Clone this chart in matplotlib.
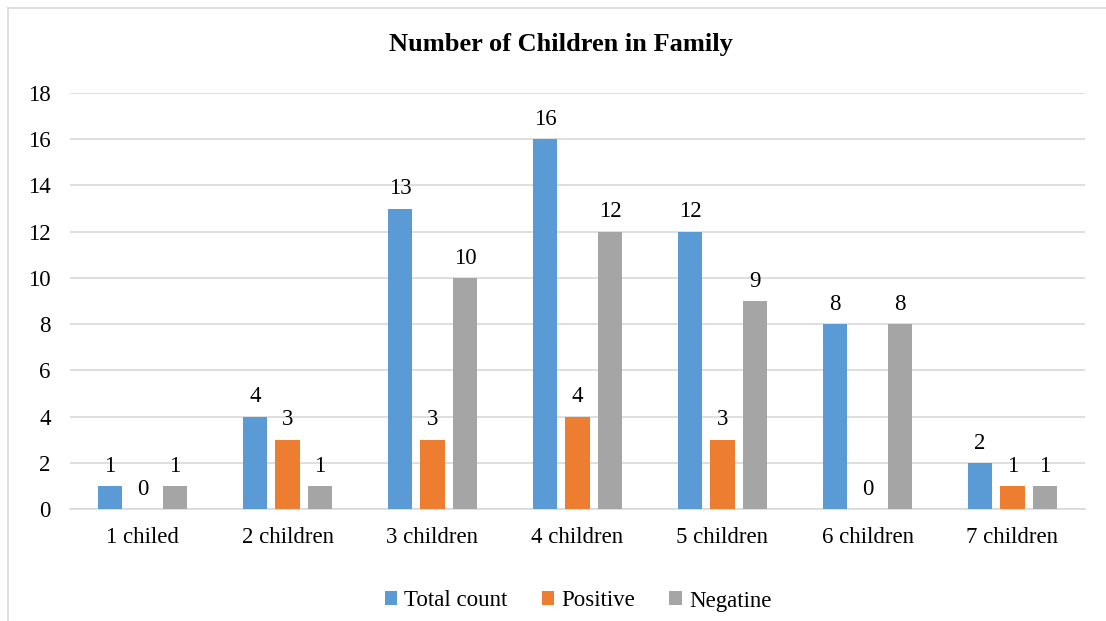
import numpy as np
import matplotlib.pyplot as plt
from matplotlib.lines import Line2D

categories = ["1 chiled", "2 children", "3 children", "4 children", "5 children", "6 children", "7 children"]
total_count = [1, 4, 13, 16, 12, 8, 2]
positive = [0, 3, 3, 4, 3, 0, 1]
negatine = [1, 1, 10, 12, 9, 8, 1]

series = [("Total count", total_count, "#5B9BD5"),
          ("Positive", positive, "#ED7D31"),
          ("Negatine", negatine, "#A5A5A5")]

plt.rcParams['font.family'] = ['Liberation Serif', 'DejaVu Serif']
fs = 16.5

fig = plt.figure(figsize=(11.06, 6.21), dpi=100)
ax = fig.add_axes([70/1106, 1 - 509/621, 1015/1106, 416/621])

x = np.arange(len(categories))
w = 0.172
step = 0.224
for i, (name, vals, col) in enumerate(series):
    pos = x + (i - 1) * step
    bars = ax.bar(pos, vals, w, color=col, label=name, zorder=3)
    for b, v in zip(bars, vals):
        ax.text(b.get_x() + b.get_width() / 2, v + 0.4, str(v),
                ha="center", va="bottom", fontsize=fs, color="#000000")

ax.set_xlim(-0.5, len(categories) - 0.5)
ax.set_ylim(0, 18)
ax.set_yticks(range(0, 19, 2))
ax.set_xticks(x)
ax.set_xticklabels(categories)
ax.tick_params(axis="both", length=0, labelsize=fs, colors="#000000")
ax.tick_params(axis="x", pad=13)
ax.tick_params(axis="y", pad=14)
ax.grid(axis="y", color="#D9D9D9", linewidth=1.2, zorder=0)
for s in ["top", "right", "left"]:
    ax.spines[s].set_visible(False)
ax.spines["bottom"].set_color("#D9D9D9")
ax.spines["bottom"].set_linewidth(1.2)

fig.text(561/1106, 1 - 45/621, "Number of Children in Family", ha="center", va="center",
         fontsize=19, fontweight="bold")

fig.legend(loc="center", bbox_to_anchor=(578/1106, 1 - 601/621), ncol=3, frameon=False,
           fontsize=fs, handlelength=0.55, handleheight=0.55, handletextpad=0.3,
           columnspacing=1.5)

fig.add_artist(Line2D([8/1106, 8/1106], [0, 1 - 8/621], color="#D9D9D9", linewidth=1.2))
fig.add_artist(Line2D([8/1106, 1], [1 - 8/621, 1 - 8/621], color="#D9D9D9", linewidth=1.2))

fig.savefig("out.png", dpi=100)
